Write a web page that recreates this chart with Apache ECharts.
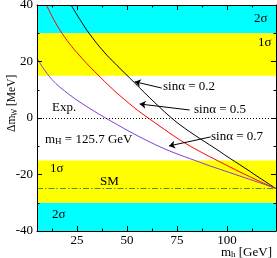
<!DOCTYPE html>
<html><head><meta charset="utf-8">
<script src="https://cdn.jsdelivr.net/npm/echarts@6/dist/echarts.min.js"></script>
<style>html,body{margin:0;padding:0;background:#fff}#c{width:277px;height:258px}</style>
</head><body><div id="c"></div>
<script>
// ---- data ----
const mhBlack = [22,25,30,35,40,45,50,55,60,65,70,75,80,85,90,95,100,105,110,115,120,124.5];
const dmBlack = [40,36.5,31,26.3,22.2,18.6,15.1,11.6,8.1,4.7,1.4,-1.6,-4.2,-6.6,-8.9,-11.2,-13.6,-15.9,-18.2,-20.6,-22.9,-25];
const mhRed = [9.7,12.5,15,17.5,20,22.5,25,30,35,40,45,50,55,60,65,70,75,80,85,90,95,100,105,110,115,120,124.5];
const dmRed = [40,36.0,32.8,30.0,27.5,25.2,23.1,19.2,15.6,12.1,8.8,5.8,2.9,0.3,-2.2,-4.7,-7.1,-9.3,-11.3,-13.2,-15.0,-16.8,-18.6,-20.3,-22.0,-23.6,-25];
const mhPurple = [5,6,7.5,10,12.5,15,20,25,30,35,40,45,50,55,60,65,70,75,80,85,90,95,100,105,110,115,120,124.5];
const dmPurple = [21.3,20.0,18.3,15.8,13.6,11.8,8.9,6.3,4.0,1.8,-0.3,-2.3,-4.3,-6.2,-8.0,-9.7,-11.3,-12.7,-14.0,-15.3,-16.6,-17.8,-19.0,-20.2,-21.4,-22.6,-23.8,-25];
const xMin = 5, xMax = 124.5, yMin = -40, yMax = 40;
const xLabelTicks = [25,50,75,100];
const xMinorTicks = [12.5,37.5,62.5,87.5,112.5];
const band1s = [[15,30],[-30,-15]];
const band2s = [[30,40],[-40,-30]];
const smValue = -25;
const expValue = 0;
const arrows = [
  [[67.35,10.6],[53.85,12.85]],
  [[81.35,2.83],[56.35,4.96]],
  [[91.85,-6.7],[71.0,-9.9]]
];

// ---- chart ----
const F = '"Liberation Serif","Times New Roman",serif';
const zip = (a,b) => a.map((v,i) => [v,b[i]]);
const chart = echarts.init(document.getElementById('c'), null, {renderer:'canvas'});

const subRich = {
  m:{fontFamily:F, fontSize:13, lineHeight:16, verticalAlign:'bottom', color:'#000'},
  s:{fontFamily:F, fontSize:9, lineHeight:10, verticalAlign:'bottom', color:'#000'}
};

function xAx(pos, ticks, len, labels, line) {
  return {
    type:'value', position:pos, min:xMin, max:xMax, z:10,
    axisLine:{show:line, onZero:false, lineStyle:{color:'#000', width:1}},
    axisTick:{show:true, inside:true, length:len, customValues:ticks, lineStyle:{color:'#000', width:1}},
    axisLabel:{show:labels, customValues:ticks, margin:3, fontFamily:F, fontSize:13, color:'#000'},
    splitLine:{show:false}
  };
}
function yAx(pos, labels) {
  return {
    type:'value', position:pos, min:yMin, max:yMax, interval:20, z:10,
    axisLine:{show:true, onZero:false, lineStyle:{color:'#000', width:1}},
    axisTick:{show:true, inside:true, length:5, lineStyle:{color:'#000', width:1}},
    minorTick:{show:true, splitNumber:2, length:2.5, lineStyle:{color:'#000', width:1}},
    axisLabel:{show:labels, margin:4, fontFamily:F, fontSize:13, color:'#000'},
    splitLine:{show:false}, minorSplitLine:{show:false}
  };
}

const bandData = [];
band2s.forEach(b => bandData.push([{xAxis:xMin, yAxis:b[0], itemStyle:{color:'#00ffff'}},{xAxis:xMax, yAxis:b[1]}]));
band1s.forEach(b => bandData.push([{xAxis:xMin, yAxis:b[0], itemStyle:{color:'#ffff00'}},{xAxis:xMax, yAxis:b[1]}]));

const txt = (x, y, text, extra) => ({
  type:'text', x, y, z:100,
  style:Object.assign({text, font:'13px '+F, fill:'#000', textAlign:'left', align:'left', textVerticalAlign:'middle', verticalAlign:'middle'}, extra||{})
});
const rtxt = (x, y, text, size) => ({
  type:'text', x, y, z:100,
  style:{text, font:size+'px '+F, fill:'#000', textAlign:'left', align:'left', textVerticalAlign:'middle', verticalAlign:'middle'}
});

chart.setOption({
  animation:false,
  backgroundColor:'#fff',
  grid:{left:37, top:5, width:239, height:226, containLabel:false, outerBoundsMode:'none'},
  xAxis:[
    xAx('bottom', xLabelTicks, 5, true, true),
    xAx('bottom', xMinorTicks, 2.5, false, false),
    xAx('top', xLabelTicks, 5, false, true),
    xAx('top', xMinorTicks, 2.5, false, false)
  ],
  yAxis:[ yAx('left', true), yAx('right', false) ],
  series:[
    {type:'line', data:[], z:1, silent:true,
     markArea:{silent:true, itemStyle:{opacity:1}, data:bandData}},
    {type:'line', data:[], z:2, silent:true,
     markLine:{silent:true, symbol:['none','none'], label:{show:false},
       data:[
         {yAxis:expValue, lineStyle:{color:'#000', width:1, type:[1,2]}},
         {yAxis:smValue, lineStyle:{color:'#3f962a', width:1, type:[6,2,1.5,2]}}
       ]}},
    {type:'line', data:zip(mhBlack, dmBlack), showSymbol:false, smooth:0.2, z:3,
     lineStyle:{color:'#000', width:1}},
    {type:'line', data:zip(mhRed, dmRed), showSymbol:false, smooth:0.2, z:3,
     lineStyle:{color:'#ff0000', width:1}},
    {type:'line', data:zip(mhPurple, dmPurple), showSymbol:false, smooth:0.2, z:3,
     lineStyle:{color:'#8040d8', width:1}},
    {type:'line', data:[], z:4, silent:true,
     markLine:{silent:true, symbol:['none','arrow'], symbolSize:6, label:{show:false},
       lineStyle:{color:'#000', width:1, type:'solid'},
       data:arrows.map(a => [{coord:a[0]},{coord:a[1]}])}}
  ],
  graphic:[
    txt(254, 19, '2σ'),
    txt(258, 43, '1σ'),
    txt(163, 87, 'sinα = 0.2'),
    txt(194, 110, 'sinα = 0.5'),
    txt(52, 108, 'Exp.'),
    txt(45, 138, '{m|m}{s|H}{m| = 125.7 GeV}', {rich:subRich}),
    txt(211, 137, 'sinα = 0.7'),
    txt(50, 169, '1σ'),
    txt(100, 182, 'SM'),
    txt(52, 215, '2σ'),
    txt(272, 251, '{m|m}{s|h}{m| [GeV]}', {rich:subRich, textAlign:'right', align:'right'}),
    {type:'group', x:12, y:120, rotation:Math.PI/2, z:100, children:[
      rtxt(-12, 0, 'Δm', 11.5),
      rtxt(4, 3, 'W', 7.5),
      rtxt(14, 0, '[MeV]', 11.5)
    ]}
  ]
});
</script></body></html>
